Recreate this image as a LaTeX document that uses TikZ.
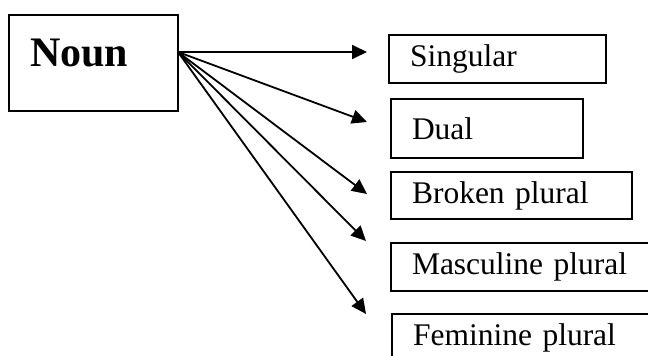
\documentclass[tikz,border=0pt]{standalone}
\usepackage{fontspec}
\setmainfont{Liberation Serif}
\usetikzlibrary{arrows.meta,calc}
\begin{document}
\begin{tikzpicture}[x=1pt,y=-1pt,
  box/.style={draw, line width=2pt, rectangle, outer sep=0pt,
    inner xsep=21pt, inner ysep=0pt, anchor=north west, align=left,
    font=\fontsize{31.5}{36}\selectfont},
  link/.style={line width=1.8pt, -{Triangle[length=15pt,width=14pt]}}]
\useasboundingbox (0,0) rectangle (648,356);
\clip (0,0) rectangle (648,356);

% root box
\node[box, minimum width=169pt, minimum height=96pt, text width=127pt,
      text depth=20pt, font=\fontsize{42}{48}\selectfont\bfseries]
  (noun) at (9,15) {Noun};

% category boxes
\node[box, minimum width=217pt, minimum height=48pt, text width=175pt]
  (singular) at (389,35) {Singular};
\node[box, minimum width=192pt, minimum height=59pt, text width=150pt]
  (dual) at (391,99) {Dual};
\node[box, minimum width=241pt, minimum height=47pt, text width=199pt]
  (broken) at (391,172) {Broken plural};
\node[box, minimum width=280pt, minimum height=48pt, text width=238pt]
  (masc) at (391,243) {Masculine plural};
\node[box, minimum width=280pt, minimum height=48pt, text width=238pt]
  (fem) at (392,314) {Feminine plural};

% common start point and arrow ends
\coordinate (hub) at ($(noun.north east)+(0,37)$);
\coordinate (t1) at (367,52);
\coordinate (t2) at (367,122);
\coordinate (t3) at (367,194);
\coordinate (t4) at (366,241);
\coordinate (t5) at (366,314);

\draw[link] (hub) -- (t1);
\draw[link] (hub) -- (t2);
\draw[link] (hub) -- (t3);
\draw[link] (hub) -- (t4);
\draw[link] (hub) -- (t5);
\end{tikzpicture}
\end{document}
